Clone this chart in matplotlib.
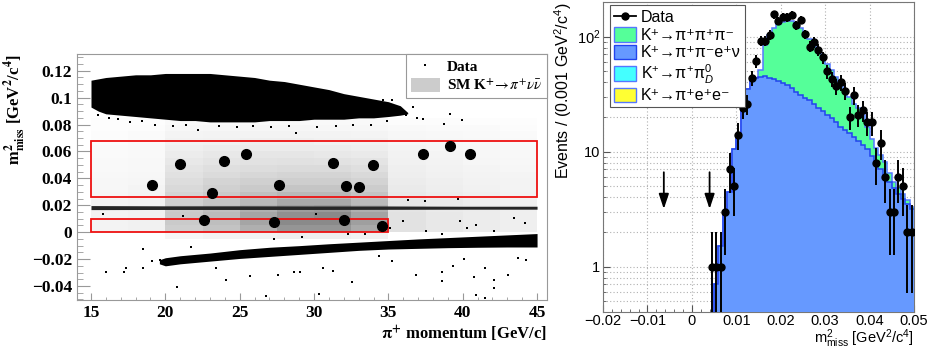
import numpy as np
import matplotlib
matplotlib.use("Agg")
import matplotlib.pyplot as plt
from matplotlib.patches import Patch, Rectangle
from matplotlib.lines import Line2D
from matplotlib.ticker import MultipleLocator, FuncFormatter, LogLocator, NullFormatter
from matplotlib.font_manager import FontProperties

plt.rcParams['mathtext.fontset'] = 'custom'
plt.rcParams['mathtext.rm'] = 'Liberation Sans'
plt.rcParams['mathtext.it'] = 'Liberation Sans:italic'
plt.rcParams['mathtext.bf'] = 'Liberation Sans:bold'

# ---------------- left panel data ----------------
# signal MC (SM K+ -> pi+ nu nubar), grey level per bin
sig_p_edges = [15, 17.5, 20, 22.5, 25, 27.5, 30, 32.5, 35, 37.5, 40, 42.5, 45]
sig_m2_edges = [-0.005, 0.0, 0.005, 0.01, 0.015, 0.02, 0.025, 0.03, 0.035, 0.04,
                0.045, 0.05, 0.055, 0.06, 0.065, 0.07, 0.075, 0.08, 0.085]
sig_density = [
    [0.00, 0.00, 0.08, 0.10, 0.12, 0.14, 0.14, 0.12, 0.00, 0.00, 0.00, 0.00],
    [0.10, 0.12, 0.30, 0.35, 0.42, 0.50, 0.50, 0.44, 0.20, 0.17, 0.15, 0.13],
    [0.10, 0.12, 0.32, 0.37, 0.45, 0.54, 0.54, 0.47, 0.20, 0.17, 0.15, 0.13],
    [0.10, 0.12, 0.32, 0.38, 0.45, 0.52, 0.54, 0.46, 0.20, 0.17, 0.15, 0.13],
    [0.10, 0.12, 0.31, 0.36, 0.42, 0.48, 0.49, 0.42, 0.19, 0.16, 0.15, 0.13],
    [0.09, 0.11, 0.29, 0.34, 0.39, 0.44, 0.44, 0.38, 0.18, 0.16, 0.14, 0.12],
    [0.08, 0.10, 0.27, 0.32, 0.36, 0.39, 0.39, 0.35, 0.17, 0.15, 0.13, 0.11],
    [0.07, 0.09, 0.25, 0.29, 0.32, 0.34, 0.34, 0.31, 0.16, 0.14, 0.12, 0.10],
    [0.07, 0.08, 0.23, 0.27, 0.29, 0.30, 0.30, 0.28, 0.15, 0.13, 0.11, 0.10],
    [0.06, 0.07, 0.21, 0.24, 0.26, 0.27, 0.27, 0.25, 0.14, 0.12, 0.10, 0.09],
    [0.05, 0.06, 0.19, 0.22, 0.23, 0.24, 0.24, 0.22, 0.13, 0.11, 0.09, 0.08],
    [0.05, 0.06, 0.17, 0.19, 0.20, 0.21, 0.20, 0.19, 0.12, 0.10, 0.08, 0.07],
    [0.04, 0.05, 0.15, 0.17, 0.18, 0.18, 0.17, 0.16, 0.11, 0.09, 0.07, 0.06],
    [0.04, 0.05, 0.13, 0.15, 0.15, 0.15, 0.15, 0.14, 0.10, 0.08, 0.07, 0.06],
    [0.03, 0.04, 0.11, 0.12, 0.13, 0.13, 0.12, 0.12, 0.08, 0.07, 0.06, 0.05],
    [0.03, 0.04, 0.09, 0.10, 0.10, 0.10, 0.10, 0.09, 0.07, 0.06, 0.05, 0.04],
    [0.02, 0.03, 0.07, 0.08, 0.08, 0.08, 0.07, 0.07, 0.05, 0.04, 0.04, 0.03],
    [0.02, 0.02, 0.05, 0.05, 0.05, 0.05, 0.05, 0.05, 0.03, 0.03, 0.02, 0.02],
]

# signal regions (red boxes)
region_p = [(15, 45), (15, 35)]
region_m2 = [(0.026, 0.068), (0.0, 0.01)]

# K+ -> pi+ pi+ pi- band (dense data)
k3pi_p = [15, 15.5, 16, 17, 18, 19, 20, 21, 22, 23, 24, 25, 26, 27, 28, 29, 30,
          31, 32, 33, 34, 35, 35.8, 36.3]
k3pi_hi = [0.113, 0.114, 0.115, 0.116, 0.117, 0.117, 0.118, 0.118, 0.118, 0.118,
           0.117, 0.116, 0.115, 0.113, 0.112, 0.110, 0.108, 0.106, 0.103, 0.101,
           0.099, 0.097, 0.094, 0.089]
k3pi_lo = [0.093, 0.090, 0.088, 0.087, 0.086, 0.085, 0.084, 0.083, 0.083, 0.082,
           0.082, 0.082, 0.082, 0.083, 0.083, 0.083, 0.084, 0.084, 0.084, 0.085,
           0.085, 0.086, 0.087, 0.088]

# K+ -> pi+ pi0 band
k2pi_p = [15, 20, 25, 30, 35, 40, 45]
k2pi_hi = [0.0198, 0.0196, 0.0196, 0.0195, 0.0195, 0.0193, 0.0193]
k2pi_lo = [0.0168, 0.0169, 0.0169, 0.0169, 0.0170, 0.0171, 0.0171]

# K+ -> mu+ nu band
kmu2_p = [19.6, 20, 21, 23, 25, 27, 29, 31, 33, 35, 37, 39, 41, 43, 45]
kmu2_hi = [-0.0205, -0.0190, -0.0175, -0.0155, -0.0130, -0.0112, -0.0100, -0.0086,
           -0.0074, -0.0062, -0.0050, -0.0040, -0.0030, -0.0020, -0.0010]
kmu2_lo = [-0.0235, -0.0250, -0.0235, -0.0215, -0.0195, -0.0180, -0.0165, -0.0150,
           -0.0135, -0.0125, -0.0120, -0.0115, -0.0112, -0.0110, -0.0110]

# isolated data points
sparse_p = [16.03, 17.19, 17.38, 18.53, 18.51, 19.1, 19.64, 20.79, 21.73, 22.64,
            23.39, 24.11, 25.72, 26.8, 27.28, 27.57, 28.65, 29.09, 29.16, 30.34,
            30.6, 31.3, 32.57, 33.46, 34.38, 35.26, 36.83, 38.63, 38.63, 39.35,
            40.07, 40.79, 40.91, 41.51, 41.51, 42.11, 42.11, 43.07, 44.28, 43.75,
            35.99, 36.35, 37.43, 39.66, 37.55, 38.63, 39.83, 40.31, 40.91, 42.11,
            43.44, 44.16, 35.14, 32.26, 30.1, 21.2, 15.8,
            37.31, 38.75, 39.16, 39.98, 36.66, 35.26, 34.66, 28.77, 22.2,
            15.5, 16.2, 16.8, 17.6, 18.4, 19.3, 20.5, 21.4, 23.6, 24.8, 25.9,
            27.1, 28.3, 30.2, 31.5, 32.6, 33.8, 34.9, 35.6, 36.2, 36.9]
sparse_m2 = [-0.0298, -0.0298, -0.0266, -0.0122, -0.0266, -0.0211, -0.0204, -0.041,
             -0.0109, -0.0216, -0.0266, -0.0353, -0.0323, -0.0477, -0.0047, -0.0316,
             -0.0296, -0.0296, -0.0035, -0.046, -0.0266, -0.0291, -0.0373, -0.0017,
             -0.0174, -0.0216, -0.032, -0.0296, -0.036, -0.0248, -0.0196, -0.0335,
             -0.0465, -0.0266, -0.049, -0.0353, -0.0415, -0.0316, -0.0204, -0.0191,
             0.0082, 0.0243, 0.0231, 0.0248, 0.0007, -0.0017, 0.0082, 0.0032, 0.0057,
             0.0007, 0.0107, 0.007, 0.0032, -0.0017, 0.0132, 0.0124, 0.0132,
             0.084, 0.0807, 0.0877, 0.0835, 0.0927, 0.0984, 0.0986, 0.074, 0.0758,
             0.087, 0.085, 0.084, 0.082, 0.083, 0.080, 0.079, 0.080, 0.079, 0.078,
             0.079, 0.078, 0.079, 0.078, 0.079, 0.080, 0.080, 0.083, 0.090, 0.087, 0.085]

# candidate events in the signal regions
cand_p = [19.09, 20.96, 22.62, 23.17, 23.97, 25.41, 27.28, 27.64, 31.25, 32.02,
          32.12, 33.0, 33.99, 34.59, 37.31, 39.13, 40.5]
cand_m2 = [0.0348, 0.0504, 0.0089, 0.0288, 0.0527, 0.0584, 0.0077, 0.0353, 0.0517,
           0.0094, 0.0340, 0.0333, 0.0497, 0.0045, 0.0584, 0.0643, 0.0584]

# ---------------- right panel data ----------------
bin_lo, bin_hi = 0.004, 0.050
data_counts = [1, 1, 1, 3, 7, 5, 14, 24, 26, 44, 61, 92, 92, 104, 156, 137, 149, 147,
               154, 126, 140, 105, 82, 89, 77, 66, 50, 43, 37, 40, 34, 20, 31, 21, 23,
               18, 18, 8, 12, 6, 3, 3, 6, 5, 2, 2]
k_pipienu = [0, 0.7, 1.5, 3.0, 4.5, 10.5, 14, 27, 35, 41, 44, 45, 45.5, 44, 42.5, 41,
             39.5, 38, 36, 33, 31, 29.5, 28, 26, 24, 22.5, 21, 19.5, 18, 16.5, 15.5,
             14.5, 13.3, 12.3, 11.5, 10.5, 9.2, 8, 7, 6.2, 5.4, 4.8, 4.3, 3.9, 3.5, 3.2]
stack_total = [0, 0.7, 1.5, 3.0, 4.5, 10.5, 14, 27, 35, 41, 44, 51, 85, 103, 118, 130,
               134, 138, 137, 129, 118, 107, 95, 85, 77, 67, 58, 51, 45, 39.5, 34.5,
               30, 26, 23.8, 20.8, 16.5, 13, 10.7, 9.4, 8.2, 6.5, 5.5, 4.8, 4.3, 3.8, 3.3]
cut_arrow_x = [-0.0063, 0.0040]
arrow_from, arrow_to = 7.0, 3.0

fig = plt.figure(figsize=(9.37, 3.49), dpi=100)

# =============== left: m2miss vs momentum ===============
serif = ['Liberation Serif', 'DejaVu Serif']
axl = fig.add_axes([0.0822, 0.1404, 0.5016, 0.705])
dens = np.ma.masked_equal(np.array(sig_density), 0)
axl.pcolormesh(sig_p_edges, sig_m2_edges, dens, cmap='Greys', vmin=0, vmax=1,
               shading='flat', zorder=1)

for (p0, p1), (m0, m1) in zip(region_p, region_m2):
    axl.add_patch(Rectangle((p0, m0), p1 - p0, m1 - m0, fill=False,
                            ec='#ee1111', lw=1.3, zorder=4))

axl.fill_between(k3pi_p, k3pi_lo, k3pi_hi, color='k', lw=0, zorder=2)
axl.fill_between(kmu2_p, kmu2_lo, kmu2_hi, color='k', lw=0, zorder=2)
axl.fill_between(k2pi_p, k2pi_lo, k2pi_hi, color='#262626', lw=0, zorder=2)
axl.plot(sparse_p, sparse_m2, 's', ms=1.8, color='k', mew=0, zorder=3)
axl.plot(cand_p, cand_m2, 'o', ms=7, color='k', zorder=5)

axl.set_xlim(14.06, 45.67)
axl.set_ylim(-0.0504, 0.1325)
axl.xaxis.set_major_locator(MultipleLocator(5))
axl.xaxis.set_minor_locator(MultipleLocator(1))
axl.yaxis.set_major_locator(MultipleLocator(0.02))
axl.yaxis.set_minor_locator(MultipleLocator(0.005))
axl.yaxis.set_major_formatter(FuncFormatter(lambda v, p: ('%g' % round(v, 3)).replace('-', '\u2212')))
axl.tick_params(axis='y', which='major', direction='in', length=9, color='#999999')
axl.tick_params(axis='y', which='minor', direction='in', length=4.5, color='#999999')
axl.tick_params(axis='x', which='major', direction='in', length=5, color='#999999')
axl.tick_params(axis='x', which='minor', direction='in', length=2.5, color='#999999')
for s in axl.spines.values():
    s.set_color('#999999')
for lab in axl.get_xticklabels() + axl.get_yticklabels():
    lab.set_fontfamily(serif)
    lab.set_fontweight('bold')
    lab.set_fontsize(12.5)

lprop = FontProperties(family=serif, weight='bold', size=12, math_fontfamily='stix')
axl.set_ylabel(r'$\mathbf{m^{2}_{miss}}$ [GeV$^{\mathbf{2}}$/c$^{\mathbf{4}}$]',
               fontproperties=lprop, loc='top', labelpad=3)
axl.set_xlabel(r'$\mathbf{\pi}^{\mathbf{+}}$ momentum [GeV/c]',
               fontproperties=lprop, loc='right', labelpad=2)

leg_prop = FontProperties(family=serif, weight='bold', size=11, math_fontfamily='stix')
hl = [Line2D([], [], marker='s', ms=2, ls='none', color='k', mew=0),
      Patch(fc='#cccccc', ec='none')]
leg = axl.legend(hl, ['Data', r'SM K$^{\mathbf{+}}\!\rightarrow\!\pi^{+}\nu\bar{\nu}$'],
                 loc='upper right', bbox_to_anchor=(1.0, 1.0), borderaxespad=0,
                 prop=leg_prop, fancybox=False, framealpha=1, edgecolor='#999999',
                 handlelength=1.9, handleheight=1.1, borderpad=0.3, labelspacing=0.2,
                 handletextpad=0.5)
leg.get_frame().set_linewidth(0.8)
leg.set_zorder(6)

# =============== right: m2miss distribution ===============
sans = ['Liberation Sans', 'DejaVu Sans']
axr = fig.add_axes([0.6435, 0.1069, 0.3319, 0.8874])
axr.set_yscale('log')
edges = np.linspace(bin_lo, bin_hi, len(data_counts) + 1)
centers = 0.5 * (edges[:-1] + edges[1:])
green, blue = '#55ff99', '#6699ff'
tot = np.maximum(np.array(stack_total, float), 1e-3)
blu = np.maximum(np.array(k_pipienu, float), 1e-3)
axr.stairs(tot, edges, baseline=1e-3, fill=True, color=green, zorder=2)
axr.stairs(tot, edges, baseline=None, color='#5577ff', lw=1.1, zorder=3)
axr.stairs(blu, edges, baseline=1e-3, fill=True, color=blue, zorder=3)
axr.stairs(blu, edges, baseline=None, color='#2244ee', lw=1.1, zorder=4)

n = np.array(data_counts, float)
err = np.sqrt(n)
lo = n - np.maximum(n - err, 1e-3)
axr.errorbar(centers, n, yerr=[lo, err], fmt='o', ms=5, color='k',
             elinewidth=1.4, capsize=0, zorder=6)

for x in cut_arrow_x:
    axr.annotate('', xy=(x, arrow_to), xytext=(x, arrow_from),
                 arrowprops=dict(arrowstyle='-|>,head_length=0.9,head_width=0.3',
                                 color='k', lw=1.3), zorder=6)

axr.set_xlim(-0.02, 0.05)
axr.set_ylim(0.406, 200)
axr.xaxis.set_major_locator(MultipleLocator(0.01))
axr.xaxis.set_minor_locator(MultipleLocator(0.002))
axr.xaxis.set_major_formatter(FuncFormatter(lambda v, p: ('%g' % round(v, 3)).replace('-', '\u2212')))
axr.yaxis.set_major_locator(LogLocator(base=10))
axr.yaxis.set_minor_locator(LogLocator(base=10, subs=np.arange(2, 10)))
axr.yaxis.set_minor_formatter(NullFormatter())
axr.yaxis.set_major_formatter(FuncFormatter(
    lambda v, p: '1' if abs(v - 1) < 1e-6 else ('10' if abs(v - 10) < 1e-6 else r'10$^{%d}$' % round(np.log10(v)))))
axr.set_axisbelow(True)
axr.grid(True, axis='y', which='both', ls=(0, (1, 2)), color='#b0b0b0', lw=0.8)
axr.grid(True, axis='x', which='major', ls=(0, (1, 2)), color='#b0b0b0', lw=0.8)
axr.tick_params(which='major', direction='in', length=5, color='#555555', pad=2)
axr.tick_params(which='minor', direction='in', length=2.5, color='#555555')
for s in axr.spines.values():
    s.set_color('#777777')
for lab in axr.get_xticklabels() + axr.get_yticklabels():
    lab.set_fontfamily(sans)
    lab.set_fontsize(10.5)

axr.set_ylabel(r'Events / (0.001 GeV$^{2}$/c$^{4}$)', family=sans, fontsize=11.5,
               loc='top', labelpad=2)
axr.set_xlabel(r'm$^{2}_{\rm miss}$ [GeV$^{2}$/c$^{4}$]', family=sans, fontsize=10.5,
               loc='right', labelpad=-1)

rh = [Line2D([], [], color='k', marker='o', ms=5, lw=1.3),
      Patch(fc=green, ec='#5577ff'),
      Patch(fc=blue, ec='#2244ee'),
      Patch(fc='#44ffff', ec='#5577ff'),
      Patch(fc='#ffff33', ec='#5577ff')]
rl = ['Data',
      'K\u207a\u2192\u03c0\u207a\u03c0\u207a\u03c0\u207b',
      'K\u207a\u2192\u03c0\u207a\u03c0\u207be\u207a\u03bd',
      'K$^{+}$\u2192\u03c0$^{+}$\u03c0$^{0}_{D}$',
      'K\u207a\u2192\u03c0\u207ae\u207ae\u207b']
legr = axr.legend(rh, rl, loc='upper left', bbox_to_anchor=(0.0225, 0.99),
                  borderaxespad=0, prop=FontProperties(family=sans, size=11.5),
                  fancybox=False, framealpha=1, edgecolor='#555555',
                  handlelength=1.4, handleheight=1.05, borderpad=0.25,
                  labelspacing=0.12, handletextpad=0.3)
legr.get_frame().set_linewidth(0.8)
legr.set_zorder(7)

fig.savefig('out.png', dpi=100)
